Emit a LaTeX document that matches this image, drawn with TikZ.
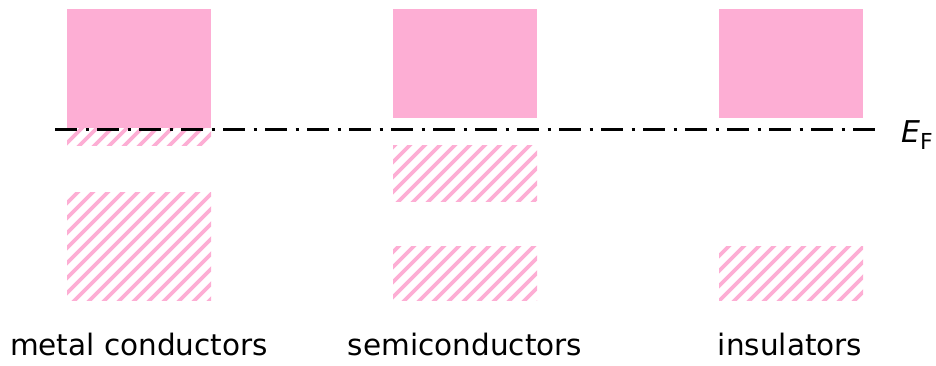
\documentclass[tikz,border=0pt]{standalone}
\usepackage{fontspec}
\setmainfont{DejaVu Sans}
\definecolor{bandpink}{RGB}{253,174,212}
\tikzset{
  solidband/.style={fill=bandpink, draw=none},
  stripe/.style={draw=bandpink, line width=3.6pt},
  fermiline/.style={draw=black, line width=3pt, dash pattern=on 22pt off 8.5pt on 3pt off 8.5pt},
  caption/.style={anchor=base, inner sep=0pt, font=\fontsize{29.5}{32}\selectfont}
}
\newcommand\hatchband[4]{%
  \begin{scope}
    \clip (#1,#2) rectangle (#3,#4);
    \foreach \c in {0,15,...,1260} {\draw[stripe] (\c+20,-20) -- (\c-420,420);}
  \end{scope}}
\begin{document}
\begin{tikzpicture}[x=1pt,y=-1pt]
\useasboundingbox (0,0) rectangle (936,365);
% metal conductors
\fill[solidband] (67,9) rectangle (211,128);
\hatchband{67}{128}{211}{145}
\hatchband{67}{192}{211}{300}
% semiconductors
\fill[solidband] (393,9) rectangle (537,118);
\hatchband{393}{145}{537}{201}
\hatchband{393}{246}{537}{300}
% insulators
\fill[solidband] (719,9) rectangle (863,118);
\hatchband{719}{246}{863}{300}
% Fermi level
\coordinate (fl) at (55,129);
\coordinate (fr) at (878,129);
\draw[fermiline] (fl) -- (fr);
\node[anchor=base west, inner sep=0pt] (ef) at (901,142)
  {\fontsize{30}{32}\selectfont\textit{E}\raisebox{-7pt}{\fontsize{22}{24}\selectfont F}};
% captions
\node[caption] (c1) at (139,355) {metal conductors};
\node[caption] (c2) at (465,355) {semiconductors};
\node[caption] (c3) at (790,355) {insulators};
\end{tikzpicture}
\end{document}
